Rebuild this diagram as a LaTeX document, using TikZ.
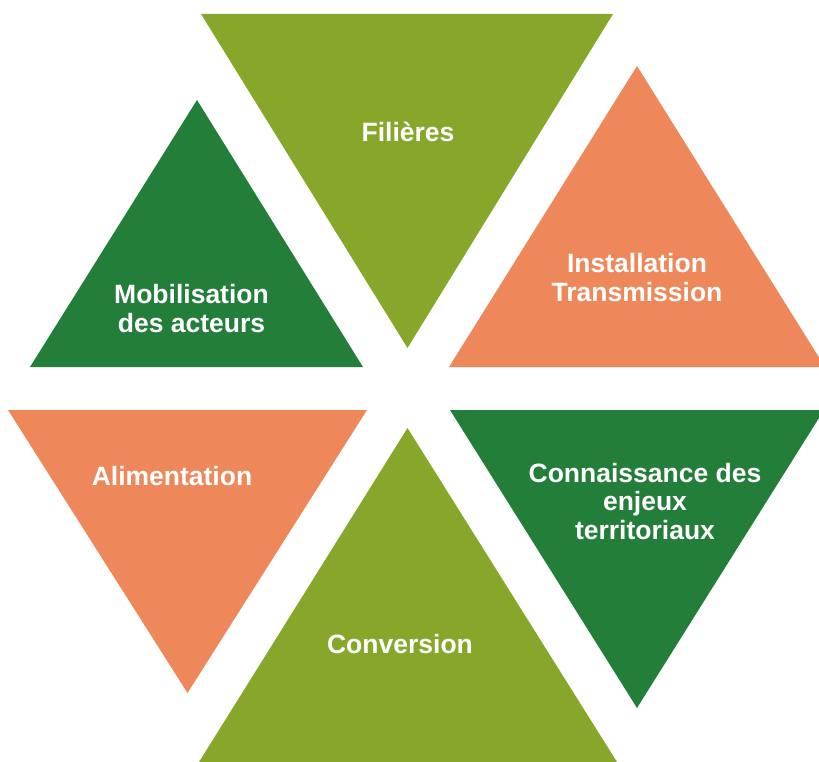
\documentclass[tikz,border=0pt]{standalone}
\usepackage{fontspec}
\setmainfont{Liberation Sans}
\definecolor{olive}{HTML}{87A72B}
\definecolor{dgreen}{HTML}{237E3A}
\definecolor{orangec}{HTML}{EE885B}
\tikzset{
  lbl/.style={text=white, font=\fontsize{26.5}{28.5}\selectfont\bfseries, align=center, anchor=base, inner sep=0pt}
}
\begin{document}
\begin{tikzpicture}[x=1pt,y=-1pt]
\useasboundingbox (0,0) rectangle (819,762);
\clip (0,0) rectangle (819,762);
% triangles
\fill[olive] (201,14) -- (613,14) -- (407.5,348) -- cycle;
\fill[orangec] (637,66) -- (449,367) -- (825,367) -- cycle;
\fill[dgreen] (197,100) -- (30,367) -- (363,367) -- cycle;
\fill[orangec] (8,410) -- (367,410) -- (187.5,693) -- cycle;
\fill[dgreen] (450,410) -- (824,410) -- (637,708) -- cycle;
\fill[olive] (407.5,428) -- (199,762) -- (617,762) -- cycle;
% labels
\node[lbl] (fil) at (408,142) {Filières};
\node[lbl] (ins) at (637,301) {Installation\\Transmission};
\node[lbl] (mob) at (191.5,332) {Mobilisation\\des acteurs};
\node[lbl] (ali) at (172,485) {Alimentation};
\node[lbl] (con) at (645,539) {Connaissance des\\enjeux\\territoriaux};
\node[lbl] (cvs) at (400,653) {Conversion};
\end{tikzpicture}
\end{document}
